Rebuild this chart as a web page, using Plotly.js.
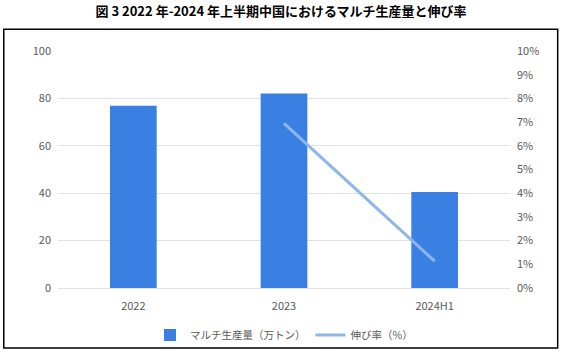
<!DOCTYPE html>
<html><head><meta charset="utf-8">
<script src="https://cdn.plot.ly/plotly-3.0.1.min.js"></script>
<style>html,body{margin:0;padding:0;background:#fff}#c{width:562px;height:354px}</style>
</head><body><div id="c"></div>
<script>
const categories = ['2022', '2023', '2024H1'];
const production = [76.9, 82.1, 40.5];
const growth = [null, 6.95, 1.13];
const seriesNames = ['マルチ生産量（万トン）', '伸び率（%）'];
const titleText = '図 3 2022 年-2024 年上半期中国におけるマルチ生産量と伸び率';

const font = '"Noto Sans CJK JP", "Noto Sans", sans-serif';
const traces = [
  {type:'bar', x:categories, y:production, name:seriesNames[0],
   marker:{color:'#3A80E2'}, hoverinfo:'skip'},
  {type:'scatter', mode:'lines', x:categories, y:growth, name:seriesNames[1], yaxis:'y2',
   line:{color:'#8DB6EB', width:3}, connectgaps:false, hoverinfo:'skip'}
];
const layout = {
  width:562, height:354,
  margin:{l:58, r:52, t:51, b:66, autoexpand:false},
  paper_bgcolor:'#fff', plot_bgcolor:'#fff',
  font:{family:font, color:'#595959', size:11},
  title:{text:'<b>'+titleText+'</b>', x:0.5, xanchor:'center', y:0.967, yanchor:'middle',
         font:{family:font, size:13, color:'#000'}},
  bargap:0.69,
  showlegend:true,
  legend:{orientation:'h', x:0.5, xanchor:'center', yref:'container', y:0.054, yanchor:'middle',
          bgcolor:'rgba(0,0,0,0)',
          font:{family:font, size:10.5, color:'#595959'}, itemwidth:30, traceorder:'normal'},
  xaxis:{type:'category', showgrid:false, showline:true, linecolor:'#E3E3E3', ticks:'',
         automargin:false, ticklabelstandoff:8, tickfont:{size:11, color:'#595959'}},
  yaxis:{range:[0,100], dtick:20, showgrid:true, gridcolor:'#E3E3E3', zeroline:false,
         automargin:false, ticks:'', ticklabelstandoff:6, tickfont:{size:11, color:'#595959'}},
  yaxis2:{overlaying:'y', side:'right', range:[0,10], dtick:1, ticksuffix:'%', showgrid:false,
          automargin:false, zeroline:false, ticks:'', ticklabelstandoff:6, tickfont:{size:11, color:'#595959'}},
  shapes:[{type:'rect', xref:'paper', yref:'paper', x0:-0.12, x1:1.1055, y0:-0.253, y1:1.092,
           line:{color:'#000', width:1.5}, fillcolor:'rgba(0,0,0,0)', layer:'below'}]
};
Plotly.newPlot('c', traces, layout, {staticPlot:true, displayModeBar:false});
</script></body></html>
